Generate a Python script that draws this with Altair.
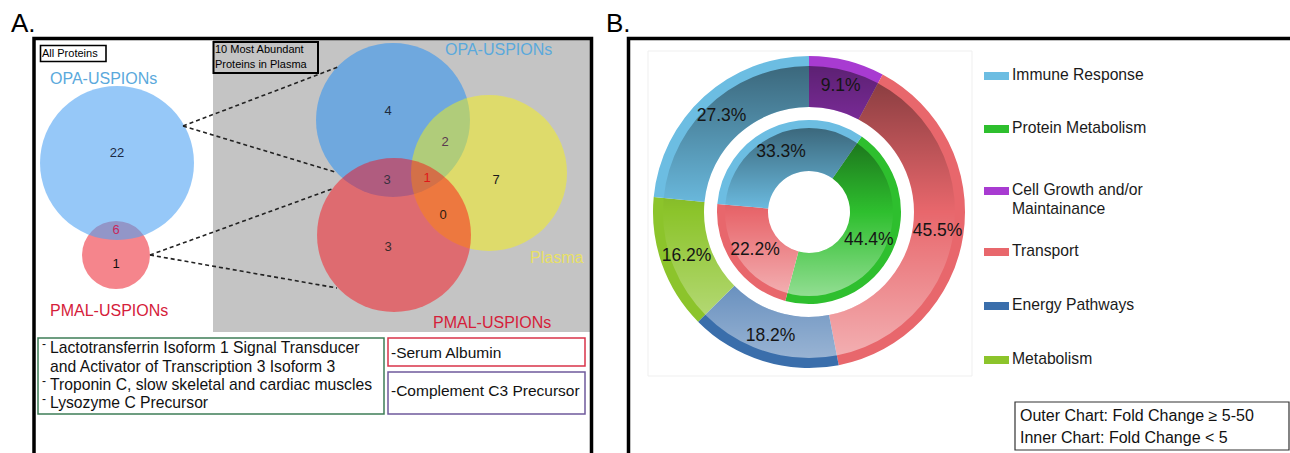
import math
import textwrap

import altair as alt
import pandas as pd

W, H = 1290, 453
FONT = "Liberation Sans"

# ---------------- Panel A: protein counts per Venn region ----------------
all_sets = ["OPA-USPIONs", "PMAL-USPIONs"]
all_regions = ["OPA only", "OPA and PMAL", "PMAL only"]
all_counts = [22, 6, 1]

top_sets = ["OPA-USPIONs", "Plasma", "PMAL-USPIONs"]
top_regions = ["OPA only", "OPA and Plasma", "OPA and PMAL", "All three",
               "Plasma only", "PMAL and Plasma", "PMAL only"]
top_counts = [4, 2, 3, 1, 7, 0, 3]

opa_proteins = ["Lactotransferrin Isoform 1 Signal Transducer",
                "and Activator of Transcription 3 Isoform 3",
                "Troponin C, slow skeletal and cardiac muscles",
                "Lysozyme C Precursor"]
pmal_proteins = ["Serum Albumin"]
shared_proteins = ["Complement C3 Precursor"]

# ---------------- Panel B: functional categories (%) ----------------
categories = ["Immune Response", "Protein Metabolism", "Cell Growth and/or Maintainance",
              "Transport", "Energy Pathways", "Metabolism"]
palette = ["#6cbde2", "#2ebf2e", "#a83bd1", "#e8676c", "#3a6eab", "#8cc42b"]

outer_cats = ["Cell Growth and/or Maintainance", "Transport", "Energy Pathways",
              "Metabolism", "Immune Response"]
outer_pct = [9.1, 45.5, 18.2, 16.2, 27.3]

inner_cats = ["Protein Metabolism", "Transport", "Immune Response"]
inner_pct = [44.4, 22.2, 33.3]

fold_notes = ["Outer Chart: Fold Change \u2265 5-50", "Inner Chart: Fold Change < 5"]

# ---------------- layout ----------------
xs = alt.Scale(domain=[0, W], nice=False, zero=False)
ys = alt.Scale(domain=[0, H], nice=False, zero=False, reverse=True)


def X(f):
    return alt.X(f, type="quantitative", scale=xs, axis=None)


def Y(f):
    return alt.Y(f, type="quantitative", scale=ys, axis=None)


CX, CY = 809, 212          # donut centre
R_OUT, R_OUT_IN = 156, 105  # outer ring
R_IN, R_IN_IN = 92, 41      # inner ring
RIM = 10                    # plain rim kept outside the shaded band
INNER_START = 0.61          # inner ring starting angle (rad)

# grey background of the top-10 Venn
grey = pd.DataFrame([{"x": 213, "x2": 590, "y": 40, "y2": 332}])
grey_layer = alt.Chart(grey).mark_rect(color="#c4c4c4").encode(
    x=X("x"), x2="x2", y=Y("y"), y2="y2")

# circles (draw order = z); symbol size is the bounding-box area (2r)^2
circles = pd.DataFrame([
    {"name": all_sets[1], "cx": 116, "cy": 255, "r": 34, "fill": "#f5858c", "op": 1.0, "z": 0},
    {"name": all_sets[0], "cx": 117, "cy": 163, "r": 77, "fill": "#4da2f3", "op": 0.59, "z": 1},
    {"name": top_sets[0], "cx": 393, "cy": 120, "r": 77, "fill": "#6fa8de", "op": 1.0, "z": 2},
    {"name": top_sets[1], "cx": 489, "cy": 173, "r": 78, "fill": "#fff900", "op": 0.45, "z": 3},
    {"name": top_sets[2], "cx": 394, "cy": 235, "r": 77, "fill": "#ff000a", "op": 0.45, "z": 4},
])
circles["area"] = (2 * circles["r"]) ** 2
circle_layer = alt.Chart(circles).mark_circle(strokeWidth=0).encode(
    x=X("cx"), y=Y("cy"),
    size=alt.Size("area:Q", scale=None),
    fill=alt.Fill("fill:N", scale=None),
    opacity=alt.Opacity("op:Q", scale=None),
    order=alt.Order("z:Q"),
)

# dashed zoom lines between the two Venns
links = pd.DataFrame([
    {"x": 183, "y": 126, "x2": 338, "y2": 67},
    {"x": 183, "y": 126, "x2": 335, "y2": 172},
    {"x": 150, "y": 255, "x2": 332, "y2": 189},
    {"x": 150, "y": 255, "x2": 337, "y2": 288},
])
link_layer = alt.Chart(links).mark_rule(color="#222222", strokeWidth=1.6, strokeDash=[4, 3]).encode(
    x=X("x"), y=Y("y"), x2="x2", y2="y2")

# frames and boxes
boxes = pd.DataFrame([
    {"x": 34, "x2": 591.5, "y": 38.5, "y2": 480, "s": "#000000", "w": 3.5},
    {"x": 628.5, "x2": 1320, "y": 38.5, "y2": 480, "s": "#000000", "w": 3.5},
    {"x": 40.5, "x2": 106, "y": 45.5, "y2": 61.5, "s": "#000000", "w": 1.6},
    {"x": 213.5, "x2": 318, "y": 42, "y2": 73, "s": "#000000", "w": 2},
    {"x": 38, "x2": 384, "y": 338, "y2": 414, "s": "#3e7d57", "w": 1.5},
    {"x": 388, "x2": 585, "y": 338, "y2": 366, "s": "#d9334a", "w": 1.5},
    {"x": 388, "x2": 585, "y": 372, "y2": 414, "s": "#6f5a9c", "w": 1.5},
    {"x": 1015, "x2": 1289, "y": 402, "y2": 450, "s": "#333333", "w": 1.2},
    {"x": 648, "x2": 972, "y": 51, "y2": 376, "s": "#efefef", "w": 1},
])
box_layer = alt.Chart(boxes).mark_rect(fillOpacity=0).encode(
    x=X("x"), x2="x2", y=Y("y"), y2="y2",
    stroke=alt.Stroke("s:N", scale=None),
    strokeWidth=alt.StrokeWidth("w:Q", scale=None),
)

# ---------------- donut ----------------
cat_color = alt.Color("cat:N", scale=alt.Scale(domain=categories, range=palette), legend=None)

outer = pd.DataFrame({"cat": outer_cats, "pct": outer_pct, "ord": range(len(outer_cats))})
outer["label"] = [f"{v}%" for v in outer_pct]
inner = pd.DataFrame({"cat": inner_cats, "pct": inner_pct, "ord": range(len(inner_cats))})
inner["label"] = [f"{v}%" for v in inner_pct]

outer_theta = alt.Theta("pct:Q", stack=True, scale=alt.Scale(range=[0, 2 * math.pi]))
inner_theta = alt.Theta("pct:Q", stack=True,
                        scale=alt.Scale(range=[INNER_START, INNER_START + 2 * math.pi]))

outer_arc = alt.Chart(outer).mark_arc(radius=R_OUT, radius2=R_OUT_IN).encode(
    x=alt.value(CX), y=alt.value(CY), theta=outer_theta, color=cat_color,
    order=alt.Order("ord:Q"))
inner_arc = alt.Chart(inner).mark_arc(radius=R_IN, radius2=R_IN_IN).encode(
    x=alt.value(CX), y=alt.value(CY), theta=inner_theta, color=cat_color,
    order=alt.Order("ord:Q"))

shade = alt.LinearGradient(
    gradient="linear", x1=0, x2=0, y1=0, y2=1,
    stops=[
        alt.GradientStop(color="rgba(0,0,0,0.45)", offset=0),
        alt.GradientStop(color="rgba(0,0,0,0)", offset=0.5),
        alt.GradientStop(color="rgba(255,255,255,0)", offset=0.5),
        alt.GradientStop(color="rgba(255,255,255,0.48)", offset=1),
    ],
)
one = pd.DataFrame([{"k": 0}])
outer_shade = alt.Chart(one).mark_arc(
    theta=0, theta2=2 * math.pi, radius=R_OUT - RIM, radius2=R_OUT_IN, fill=shade
).encode(x=alt.value(CX), y=alt.value(CY))
inner_shade = alt.Chart(one).mark_arc(
    theta=0, theta2=2 * math.pi, radius=R_IN - 8, radius2=R_IN_IN, fill=shade
).encode(x=alt.value(CX), y=alt.value(CY))

outer_txt = alt.Chart(outer).mark_text(radius=130, font=FONT, fontSize=17.5, color="#151515").encode(
    x=alt.value(CX), y=alt.value(CY), theta=outer_theta, detail="cat:N",
    order=alt.Order("ord:Q"), text="label:N")
inner_txt = alt.Chart(inner).mark_text(radius=66, font=FONT, fontSize=17.5, color="#151515").encode(
    x=alt.value(CX), y=alt.value(CY), theta=inner_theta, detail="cat:N",
    order=alt.Order("ord:Q"), text="label:N")

# legend
leg_y = [76, 129, 191, 252, 306, 360]
legend = pd.DataFrame({"cat": categories, "y": leg_y})
legend["x"], legend["x2"] = 984, 1009
legend["y0"], legend["y1"] = legend["y"] - 4, legend["y"] + 4
legend["tx"] = 1012
legend["ty"] = legend["y"] - 8
legend["label"] = [textwrap.fill(c, 20) for c in categories]
legend_sw = alt.Chart(legend).mark_rect().encode(
    x=X("x"), x2="x2", y=Y("y0"), y2="y1", color=cat_color)
legend_tx = alt.Chart(legend).mark_text(
    align="left", baseline="top", font=FONT, fontSize=15.7, lineBreak="\n", lineHeight=19,
    color="#1a1a1a").encode(x=X("tx"), y=Y("ty"), text="label:N")

# ---------------- texts ----------------
counts = pd.DataFrame({
    "n": all_counts + top_counts,
    "x": [117, 116, 116, 388, 445, 387, 427, 496, 443, 388],
    "y": [153, 230, 264, 111, 142, 180, 178, 180, 215, 247],
    "c": ["#1c2a44", "#c8285c", "#111111", "#1d2b3d", "#5a3a50", "#3a3040",
          "#e01818", "#1a1a1a", "#2a1a10", "#3a2a2a"],
})
count_layer = alt.Chart(counts).mark_text(font=FONT, fontSize=13, baseline="middle").encode(
    x=X("x"), y=Y("y"), text="n:N", fill=alt.Fill("c:N", scale=None))

rows = []
set_pos = [(all_sets[0], 50, 79, "#5aa9dc"), (all_sets[1], 50, 311, "#d5203a"),
           (top_sets[0], 445, 50, "#5aa9dc"), (top_sets[1], 530, 258, "#e8e066"),
           (top_sets[2], 433, 323, "#d5203a")]
for t, x, y, c in set_pos:
    rows.append({"t": t, "x": x, "y": y, "fs": 16, "c": c})
rows += [
    {"t": "A.", "x": 11, "y": 24, "fs": 26, "c": "#000000"},
    {"t": "B.", "x": 606, "y": 24, "fs": 26, "c": "#000000"},
    {"t": "All Proteins", "x": 42, "y": 53.5, "fs": 11, "c": "#000000"},
    {"t": "10 Most Abundant", "x": 215, "y": 50, "fs": 11, "c": "#000000"},
    {"t": "Proteins in Plasma", "x": 215, "y": 65, "fs": 11, "c": "#000000"},
]
for t, y in zip(opa_proteins, [348, 367, 385, 403]):
    rows.append({"t": t, "x": 50, "y": y, "fs": 15.7, "c": "#111111"})
for y in [344, 381, 399]:
    rows.append({"t": "-", "x": 42, "y": y, "fs": 12, "c": "#111111"})
rows.append({"t": "-" + pmal_proteins[0], "x": 391, "y": 353, "fs": 15.5, "c": "#111111"})
rows.append({"t": "-" + shared_proteins[0], "x": 391, "y": 391, "fs": 15.5, "c": "#111111"})
for t, y in zip(fold_notes, [416, 438]):
    rows.append({"t": t, "x": 1020, "y": y, "fs": 16, "c": "#111111"})
labels = pd.DataFrame(rows)
label_layer = alt.Chart(labels).mark_text(align="left", baseline="middle", font=FONT).encode(
    x=X("x"), y=Y("y"), text="t:N",
    size=alt.Size("fs:Q", scale=None), fill=alt.Fill("c:N", scale=None))

chart = alt.layer(
    grey_layer, circle_layer, link_layer, box_layer,
    outer_arc, inner_arc, outer_shade, inner_shade, outer_txt, inner_txt,
    legend_sw, legend_tx, count_layer, label_layer,
).resolve_scale(theta="independent").properties(
    width=W, height=H, padding=0, autosize="none", background="white",
).configure_view(stroke=None)

chart.save("out.html", embed_options={"renderer": "svg", "actions": False})
